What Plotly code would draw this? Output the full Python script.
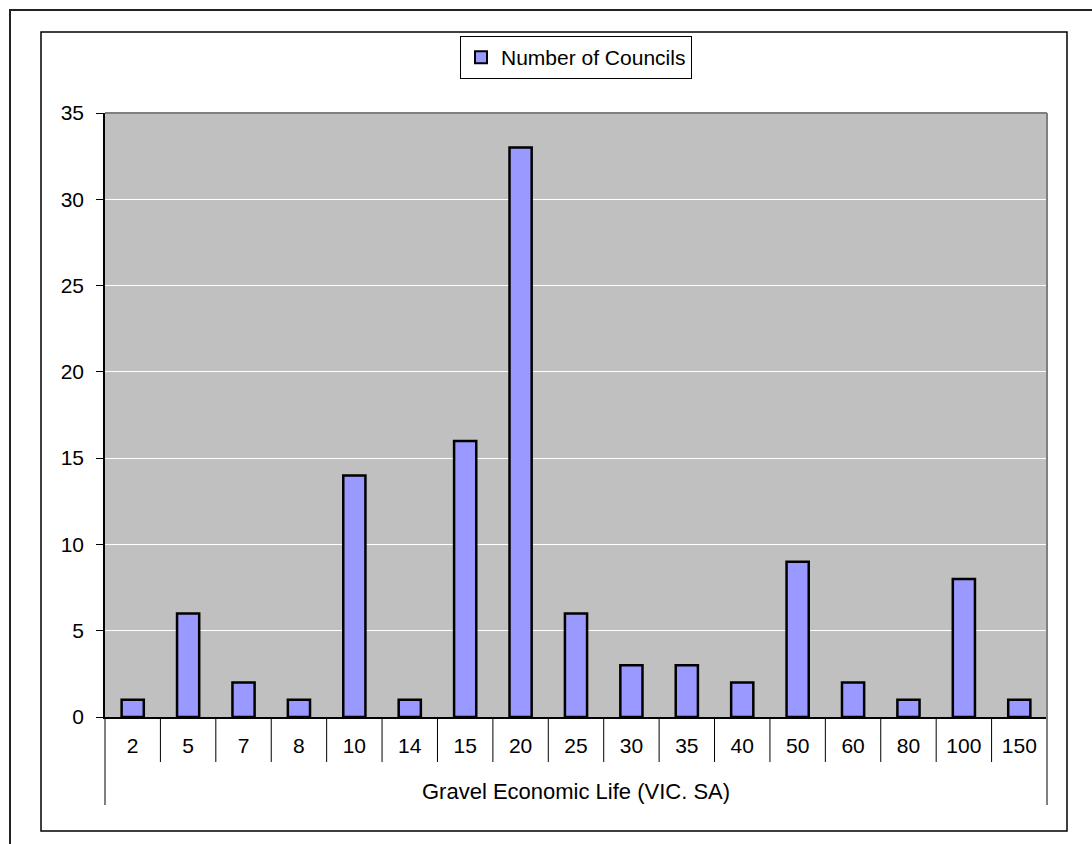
import plotly.graph_objects as go

# Economic life (years) and how many councils reported each value
life_years = ["2", "5", "7", "8", "10", "14", "15", "20", "25", "30",
              "35", "40", "50", "60", "80", "100", "150"]
councils = [1, 6, 2, 1, 14, 1, 16, 33, 6, 3, 3, 2, 9, 2, 1, 8, 1]
y_ticks = [0, 5, 10, 15, 20, 25, 30, 35]
group_title = "Gravel Economic Life (VIC. SA)"
series_name = "Number of Councils"

W, H = 1092, 844
L, R, T, B = 105, 1047, 113, 717  # plot area in page pixels
FONT = dict(family="Liberation Sans, Arial, sans-serif", size=21, color="black")


def px(xp):
    return (xp - L) / (R - L)


def py(yp):
    return (B - yp) / (B - T)


fig = go.Figure(
    go.Bar(
        x=life_years,
        y=councils,
        name=series_name,
        marker=dict(color="#9999FF", line=dict(color="black", width=2.5)),
        showlegend=True,
    )
)

shapes = []
# category separators below the axis
n = len(life_years)
for i in range(1, n):
    shapes.append(dict(type="line", xref="x", yref="paper",
                       x0=i - 0.5, x1=i - 0.5, y0=0, y1=py(762),
                       line=dict(color="black", width=1)))
# group-level bracket lines
shapes.append(dict(type="line", xref="paper", yref="paper",
                   x0=0, x1=0, y0=0, y1=py(805),
                   line=dict(color="black", width=1)))
shapes.append(dict(type="line", xref="paper", yref="paper",
                   x0=1, x1=1, y0=0, y1=py(805),
                   line=dict(color="#808080", width=2)))
# grey top and right edges of the plot area
shapes.append(dict(type="line", xref="paper", yref="paper",
                   x0=0, x1=1, y0=1, y1=1,
                   line=dict(color="#808080", width=2)))
shapes.append(dict(type="line", xref="paper", yref="paper",
                   x0=1, x1=1, y0=0, y1=1,
                   line=dict(color="#808080", width=2)))
# chart frame and outer frame
shapes.append(dict(type="rect", xref="paper", yref="paper",
                   x0=px(41), x1=px(1067), y0=py(831), y1=py(32),
                   line=dict(color="black", width=1.5)))
shapes.append(dict(type="rect", xref="paper", yref="paper",
                   x0=px(10), x1=px(1200), y0=py(1000), y1=py(10),
                   line=dict(color="#222222", width=2)))

fig.update_layout(
    width=W, height=H,
    margin=dict(l=L, r=W - R, t=T, b=H - B, pad=0),
    paper_bgcolor="white",
    plot_bgcolor="#C0C0C0",
    font=FONT,
    bargap=0.6,
    shapes=shapes,
    legend=dict(
        x=0.5, xanchor="center", y=py(36), yanchor="top",
        bgcolor="white", bordercolor="black", borderwidth=1,
        font=FONT, itemsizing="constant",
    ),
    annotations=[dict(
        text=group_title, xref="paper", yref="paper",
        x=0.5, y=py(791), xanchor="center", yanchor="middle",
        showarrow=False, font=dict(FONT, size=22),
    )],
)

fig.update_xaxes(
    type="category",
    categoryorder="array", categoryarray=life_years,
    showline=True, linecolor="black", linewidth=1.5,
    ticks="", showgrid=False,
    tickfont=FONT, ticklabelstandoff=9,
)
fig.update_yaxes(
    range=[0, 35], tickvals=y_ticks,
    showline=True, linecolor="black", linewidth=1.5,
    ticks="outside", ticklen=7, tickcolor="black",
    showgrid=True, gridcolor="white", gridwidth=1,
    zeroline=False, tickfont=FONT, ticklabelstandoff=8,
)

fig.write_html("out.html")
